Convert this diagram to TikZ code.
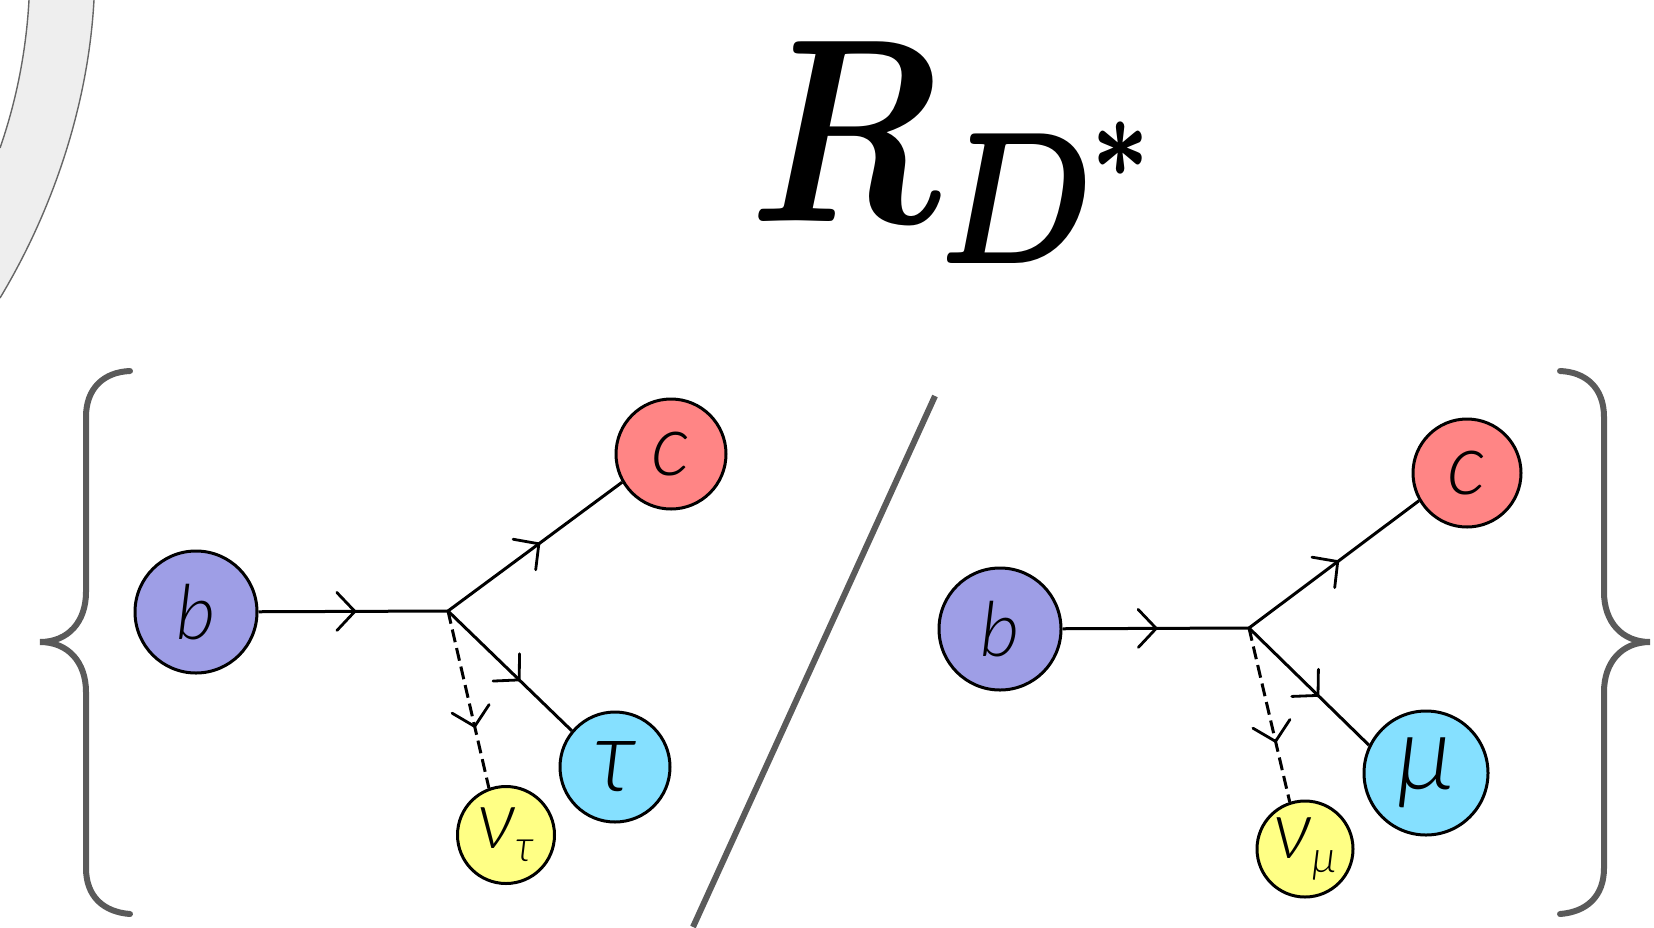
\documentclass[tikz,border=0pt]{standalone}
\usepackage{amsmath}
\usepackage{amssymb}
\usepackage[no-math]{fontspec}
\newfontfamily\handfont{Lato Light Italic}
\usetikzlibrary{arrows.meta,decorations.markings}
\definecolor{quarkb}{HTML}{9E9EE6}
\definecolor{quarkc}{HTML}{FF8585}
\definecolor{lepton}{HTML}{85E0FF}
\definecolor{neutrino}{HTML}{FFFF85}
\definecolor{ringfill}{HTML}{EEEEEE}
\definecolor{framegray}{HTML}{5A5A5A}
\newcommand{\handtext}[2]{{\fontsize{#1}{#1}\handfont #2}}
\newcommand{\handsub}[4]{{\fontsize{#1}{#1}\handfont #2\raisebox{-.16em}{\fontsize{#3}{#3}\selectfont #4}}}
\tikzset{
  particle/.style={circle,draw=black,line width=1.5pt,inner sep=0pt,text=black},
  flow/.style={line width=1.5pt,draw=black,postaction={decorate},
    decoration={markings,mark=at position #1 with {\arrow[solid,line width=1.4pt]{Straight Barb[length=9pt,width=19pt,round]}}}},
  dashflow/.style={flow=#1,dash pattern=on 6.5pt off 3pt},
  framing/.style={line width=3pt,draw=framegray,line cap=round},
  ringedge/.style={line width=.7pt,draw=black!60}
}
\begin{document}
\begin{tikzpicture}[x=.5pt,y=-.5pt]
\useasboundingbox (0,0) rectangle (1654,927);
% ring
\fill[ringfill] (94,0) .. controls (88,110) and (50,215) .. (0,298) -- (0,148) .. controls (15,105) and (26,55) .. (29,0) -- cycle;
\draw[ringedge] (94,0) .. controls (88,110) and (50,215) .. (0,298);
\draw[ringedge] (29,0) .. controls (26,55) and (15,105) .. (0,148);
% title
\node[inner sep=0pt,anchor=west] (title) at (749,153) {\scalebox{13.1}{\scalebox{.83}[1]{$\boldsymbol{R}$}\kern-.1pt\raisebox{-1.6pt}{\scalebox{.8}[1.03]{$\scriptstyle\boldsymbol{D}$}}\kern-.27pt\raisebox{1.7pt}{\scalebox{.62}[.9]{$\scriptscriptstyle\boldsymbol{*}$}}}};
% braces
\coordinate (ltip) at (40,642);
\coordinate (rtip) at (1650,642);
\draw[framing] (130,371) .. controls (104,372) and (86,388) .. (86,417) -- (86,592) .. controls (86,622) and (68,642) .. (ltip) .. controls (68,642) and (86,662) .. (86,692) -- (86,868) .. controls (86,897) and (104,912) .. (130,914);
\draw[framing] (1560,371) .. controls (1586,372) and (1604,388) .. (1604,417) -- (1604,592) .. controls (1604,622) and (1622,642) .. (rtip) .. controls (1622,642) and (1604,662) .. (1604,692) -- (1604,868) .. controls (1604,897) and (1586,912) .. (1560,914);
% slash
\coordinate (s1) at (935,396);
\coordinate (s2) at (693,927);
\draw[line width=3pt,draw=framegray] (s1) -- (s2);
% left diagram
\coordinate (v1) at (448,611);
\node[particle,fill=quarkb,minimum size=61pt,label={center:\handtext{38}{b}}] (b1) at (196,612) {};
\node[particle,fill=quarkc,minimum size=55pt,label={center:\handtext{43}{c}}] (c1) at (671,454) {};
\node[particle,fill=lepton,minimum size=55pt,label={center:\handtext{51}{τ}}] (t1) at (615,767) {};
\node[particle,fill=neutrino,minimum size=48.5pt,label={center:\handsub{41}{ν}{22}{τ}}] (n1) at (506,835) {};
\draw[flow=.516] (b1) -- (v1);
\draw[flow=.53] (v1) -- (c1.210);
\draw[flow=.585] (v1) -- (t1.140);
\draw[dashflow=.66] (v1) -- (n1.110);
% right diagram
\coordinate (v2) at (1249,628);
\node[particle,fill=quarkb,minimum size=61pt,label={center:\handtext{38}{b}}] (b2) at (1000,629) {};
\node[particle,fill=quarkc,minimum size=54pt,label={center:\handtext{43}{c}}] (c2) at (1467,473) {};
\node[particle,fill=lepton,minimum size=62pt,label={center:\handtext{52}{μ}}] (m2) at (1426,773) {};
\node[particle,fill=neutrino,minimum size=48pt,label={center:\handsub{41}{ν}{22}{μ}}] (n2) at (1305,849) {};
\draw[flow=.51] (b2) -- (v2);
\draw[flow=.53] (v2) -- (c2.210);
\draw[flow=.585] (v2) -- (m2.154);
\draw[dashflow=.66] (v2) -- (n2.108);
\end{tikzpicture}
\end{document}
